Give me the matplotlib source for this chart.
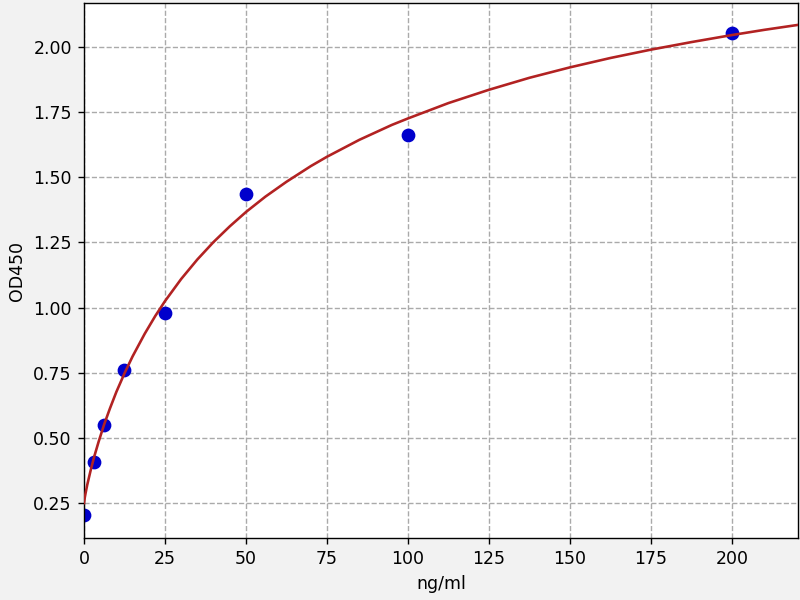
import matplotlib
matplotlib.use("Agg")
import matplotlib.pyplot as plt
from matplotlib.ticker import FormatStrFormatter

# standard points (concentration ng/ml, OD450)
conc = [0, 3.125, 6.25, 12.5, 25, 50, 100, 200]
od = [0.205, 0.409, 0.549, 0.762, 0.981, 1.437, 1.663, 2.054]

# fitted curve, values
curve_x = [0, 0.25, 0.5, 1, 2, 3.125, 4.5, 6.25, 8, 10, 12.5, 15, 18.75, 22,
           25, 30, 35, 40, 45, 50, 56, 62.5, 70, 75, 85, 95, 100, 112.5, 125,
           137.5, 150, 162.5, 175, 187.5, 200, 210, 220.4]
curve_y = [0.25, 0.272, 0.289, 0.320, 0.373, 0.427, 0.485, 0.553, 0.613, 0.677,
           0.748, 0.813, 0.900, 0.968, 1.025, 1.110, 1.185, 1.252, 1.312, 1.367,
           1.426, 1.483, 1.543, 1.579, 1.644, 1.701, 1.726, 1.785, 1.836,
           1.882, 1.922, 1.958, 1.990, 2.019, 2.046, 2.066, 2.085]

fig = plt.figure(figsize=(6.4, 4.8), dpi=125, facecolor='#f2f2f2')
ax = fig.add_axes([0.105, 0.1033, 0.8925, 0.8917])
ax.set_facecolor('white')

ax.scatter(conc, od, s=48, color='#0000cc', zorder=2)
ax.plot(curve_x, curve_y, color='#b22222', lw=1.5, zorder=3)

ax.set_xlim(0, 220.4)
ax.set_ylim(0.116, 2.169)
ax.set_xticks([0, 25, 50, 75, 100, 125, 150, 175, 200])
ax.set_yticks([0.25, 0.5, 0.75, 1.0, 1.25, 1.5, 1.75, 2.0])
ax.yaxis.set_major_formatter(FormatStrFormatter('%.2f'))
ax.grid(True, linestyle='--', color='#aaaaaa', lw=0.8)
ax.set_axisbelow(True)

ax.set_xlabel("ng/ml")
ax.set_ylabel("OD450")

fig.savefig("out.png", dpi=125, facecolor=fig.get_facecolor())
